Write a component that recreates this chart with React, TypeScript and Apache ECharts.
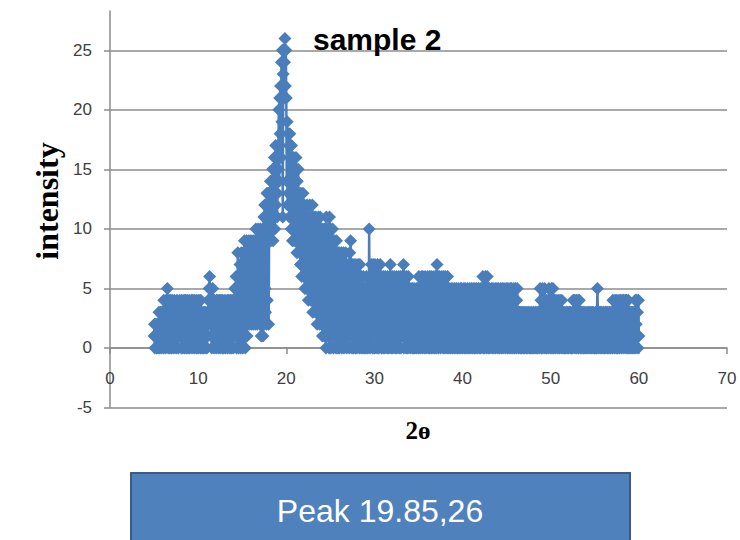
import React, { useEffect, useRef } from "react";
import * as echarts from "echarts";

// 2θ sampling grid of the scan
const X_START = 5.0;
const X_STEP = 0.05;

// intensity, one row per degree (x.00 .. x.95)
const intensity: number[] = [
  1, 2, 0, 1, 2, 1, 0, 2, 1, 0, 2, 3, 0, 1, 3, 2, 0, 3, 1, 2, // 5
  3, 0, 4, 2, 1, 3, 0, 4, 1, 2, 5, 2, 0, 3, 4, 1, 0, 4, 2, 3, // 6
  0, 4, 1, 3, 2, 0, 4, 2, 1, 3, 0, 3, 4, 1, 2, 0, 3, 1, 4, 2, // 7
  1, 3, 0, 4, 2, 0, 3, 1, 4, 0, 2, 4, 1, 0, 3, 4, 2, 0, 1, 3, // 8
  4, 0, 2, 3, 1, 4, 0, 2, 4, 1, 3, 0, 4, 2, 1, 3, 0, 4, 1, 2, // 9
  0, 3, 4, 1, 2, 0, 4, 3, 1, 0, 2, 3, 0, 1, 3, 2, 0, 3, 1, 2, // 10
  0, 3, 1, 4, 2, 5, 6, 3, 5, 1, 4, 0, 2, 5, 1, 3, 0, 4, 2, 1, // 11
  3, 0, 4, 1, 2, 4, 0, 3, 1, 4, 0, 2, 4, 1, 3, 0, 4, 2, 0, 3, // 12
  1, 4, 0, 2, 3, 1, 4, 0, 2, 4, 1, 3, 0, 4, 2, 1, 0, 4, 3, 1, // 13
  0, 4, 2, 5, 1, 3, 6, 0, 5, 2, 8, 3, 0, 6, 1, 7, 4, 0, 8, 2, // 14
  6, 0, 8, 3, 1, 9, 4, 0, 7, 2, 9, 1, 5, 8, 3, 9, 2, 6, 9, 3, // 15
  8, 2, 9, 4, 7, 2, 9, 5, 3, 8, 2, 10, 4, 9, 2, 7, 10, 3, 9, 5, // 16
  2, 10, 4, 1, 9, 3, 10, 1, 6, 11, 2, 12, 5, 3, 12, 2, 13, 4, 12, 13, // 17
  2, 9, 13, 10, 14, 9, 12, 14, 10, 15, 9, 15, 11, 16, 10, 14, 17, 12, 16, 11, // 18
  13, 17, 15, 20, 14, 21, 18, 22, 16, 24, 19, 25, 11, 23, 25, 21, 24, 26, 22, 25, // 19
  21, 14, 19, 12, 18, 13, 17, 11, 18, 12, 16, 10, 17, 12, 9, 15, 11, 16, 9, 14, // 20
  15, 9, 16, 10, 8, 14, 11, 15, 9, 13, 8, 12, 7, 13, 10, 6, 12, 8, 13, 7, // 21
  6, 12, 5, 10, 7, 11, 5, 12, 8, 6, 4, 11, 7, 12, 5, 9, 4, 10, 6, 12, // 22
  3, 10, 6, 11, 4, 8, 3, 11, 5, 9, 2, 10, 5, 11, 3, 8, 2, 11, 6, 10, // 23
  2, 9, 1, 10, 5, 7, 1, 10, 3, 8, 0, 11, 4, 9, 1, 10, 6, 0, 11, 3, // 24
  10, 0, 6, 9, 2, 10, 4, 0, 8, 3, 9, 1, 7, 0, 9, 3, 5, 0, 8, 2, // 25
  0, 8, 3, 6, 1, 8, 0, 5, 7, 2, 8, 0, 4, 7, 1, 8, 3, 0, 6, 2, // 26
  7, 1, 5, 0, 8, 3, 9, 2, 6, 0, 7, 2, 0, 5, 7, 1, 4, 0, 7, 3, // 27
  0, 6, 2, 7, 1, 4, 0, 7, 3, 5, 0, 6, 2, 4, 0, 6, 1, 5, 0, 3, // 28
  5, 0, 6, 2, 4, 0, 5, 1, 10, 4, 0, 6, 2, 7, 1, 5, 0, 7, 3, 6, // 29
  0, 7, 3, 5, 1, 6, 0, 7, 2, 4, 0, 6, 3, 7, 1, 5, 0, 6, 2, 4, // 30
  0, 6, 2, 5, 0, 6, 3, 1, 5, 0, 6, 2, 4, 0, 5, 1, 7, 3, 0, 5, // 31
  2, 6, 0, 4, 1, 6, 3, 0, 5, 2, 6, 0, 3, 5, 1, 6, 0, 4, 2, 6, // 32
  0, 5, 2, 6, 1, 4, 7, 0, 3, 6, 1, 5, 0, 6, 2, 4, 0, 6, 1, 3, // 33
  5, 0, 3, 5, 1, 4, 0, 5, 2, 0, 5, 3, 0, 4, 1, 5, 0, 2, 5, 1, // 34
  0, 6, 2, 4, 0, 5, 1, 6, 3, 0, 6, 2, 5, 0, 4, 6, 1, 0, 5, 3, // 35
  1, 6, 0, 3, 5, 0, 6, 2, 4, 0, 6, 1, 5, 0, 3, 6, 2, 0, 4, 6, // 36
  0, 5, 7, 2, 6, 0, 4, 1, 6, 3, 0, 5, 2, 6, 1, 4, 0, 6, 2, 5, // 37
  0, 6, 3, 1, 5, 0, 6, 2, 4, 0, 5, 1, 3, 0, 5, 2, 4, 0, 5, 1, // 38
  3, 0, 5, 2, 4, 0, 5, 1, 3, 0, 5, 2, 0, 4, 1, 5, 0, 3, 5, 1, // 39
  0, 4, 2, 5, 1, 0, 5, 3, 0, 4, 2, 5, 0, 1, 4, 0, 5, 2, 3, 0, // 40
  5, 1, 3, 0, 5, 2, 4, 0, 5, 1, 0, 4, 5, 2, 0, 3, 5, 1, 4, 0, // 41
  5, 0, 3, 4, 1, 5, 6, 0, 2, 5, 0, 4, 6, 1, 3, 0, 6, 2, 5, 0, // 42
  3, 5, 0, 2, 4, 1, 5, 0, 3, 5, 1, 0, 4, 2, 5, 0, 3, 1, 5, 2, // 43
  0, 5, 2, 4, 0, 3, 5, 1, 0, 4, 5, 2, 0, 3, 5, 1, 4, 0, 2, 5, // 44
  1, 4, 0, 5, 2, 3, 0, 4, 5, 1, 0, 5, 2, 4, 0, 3, 5, 1, 0, 4, // 45
  5, 2, 0, 4, 5, 1, 3, 0, 2, 3, 1, 0, 3, 2, 0, 3, 1, 2, 0, 3, // 46
  2, 0, 3, 1, 2, 0, 3, 1, 0, 3, 2, 1, 0, 3, 2, 0, 1, 3, 0, 2, // 47
  0, 3, 1, 2, 0, 3, 2, 0, 1, 3, 0, 2, 3, 1, 0, 2, 5, 1, 4, 0, // 48
  3, 5, 0, 2, 4, 1, 5, 0, 3, 2, 0, 4, 1, 3, 0, 2, 5, 1, 3, 0, // 49
  4, 1, 5, 0, 3, 5, 2, 0, 4, 1, 3, 0, 4, 2, 1, 3, 0, 4, 1, 2, // 50
  0, 4, 2, 3, 0, 4, 1, 2, 0, 3, 1, 0, 3, 2, 0, 1, 3, 0, 2, 3, // 51
  0, 2, 3, 1, 0, 3, 2, 0, 1, 3, 0, 4, 2, 1, 4, 0, 3, 2, 4, 0, // 52
  3, 1, 4, 0, 2, 4, 1, 3, 0, 2, 3, 0, 1, 3, 2, 0, 3, 1, 0, 2, // 53
  3, 0, 2, 1, 3, 0, 2, 3, 1, 0, 2, 3, 0, 1, 3, 2, 0, 3, 1, 0, // 54
  2, 0, 3, 1, 0, 3, 5, 3, 0, 2, 3, 1, 0, 3, 2, 0, 3, 1, 2, 0, // 55
  3, 1, 0, 2, 3, 0, 1, 3, 2, 0, 3, 1, 0, 2, 3, 1, 0, 3, 2, 1, // 56
  0, 4, 1, 3, 2, 0, 4, 1, 3, 0, 4, 2, 0, 3, 1, 4, 0, 2, 4, 1, // 57
  3, 0, 4, 2, 1, 4, 0, 3, 1, 4, 2, 0, 4, 1, 3, 0, 4, 2, 0, 3, // 58
  1, 3, 0, 2, 3, 0, 1, 3, 2, 0, 3, 1, 4, 0, 2, 4, 1, 3, 0, 4, // 59
  1, // 60
];

const xTicks = [0, 10, 20, 30, 40, 50, 60, 70];
const yTicks = [-5, 0, 5, 10, 15, 20, 25];
const Y_TOP = 28.3;

const TITLE = "sample 2";
const Y_NAME = "intensity";
const X_NAME = "2ɵ";
const PEAK_TEXT = "Peak 19.85,26";

const BLUE = "#4A7EBB";
const GRID_GRAY = "#8C8C8C";
const LABEL = "#404040";

export default function App() {
  const ref = useRef<HTMLDivElement>(null);

  useEffect(() => {
    if (!ref.current) return;
    const chart = echarts.init(ref.current, undefined, { renderer: "svg" });
    const data = intensity.map((v, i) => [
      Number((X_START + i * X_STEP).toFixed(2)),
      v,
    ]);
    const labelStyle = {
      color: LABEL,
      fontSize: 17,
      fontFamily: "Liberation Sans, Arial, sans-serif",
    };
    chart.setOption({
      animation: false,
      grid: { left: 110, right: 13, top: 11, bottom: 132.5, containLabel: false },
      xAxis: {
        type: "value",
        min: xTicks[0],
        max: xTicks[xTicks.length - 1],
        interval: 10,
        axisLine: { show: true, onZero: true, lineStyle: { color: GRID_GRAY, width: 1.5 } },
        axisTick: { show: true, length: 6, lineStyle: { color: GRID_GRAY, width: 1.5 } },
        axisLabel: { ...labelStyle, margin: -38 },
        splitLine: { show: false },
      },
      yAxis: {
        type: "value",
        min: yTicks[0],
        max: Y_TOP,
        interval: 5,
        axisLine: { show: true, onZero: false, lineStyle: { color: GRID_GRAY, width: 1.5 } },
        axisTick: {
          show: true,
          length: 6,
          customValues: yTicks,
          lineStyle: { color: GRID_GRAY, width: 1.5 },
        },
        axisLabel: { ...labelStyle, margin: 18, customValues: yTicks },
        splitLine: { show: true, lineStyle: { color: GRID_GRAY, width: 1.5 } },
      },
      series: [
        {
          type: "line",
          data,
          symbol: "diamond",
          symbolSize: 13,
          showSymbol: true,
          lineStyle: { color: BLUE, width: 2.5 },
          itemStyle: { color: BLUE },
          emphasis: { disabled: true },
          silent: true,
          z: 3,
        },
      ],
      graphic: [
        {
          type: "text",
          left: 313,
          top: 24,
          z: 10,
          style: {
            text: TITLE,
            fill: "#000",
            font: "bold 30px 'Liberation Sans', Arial, sans-serif",
          },
        },
        {
          type: "text",
          x: 47,
          y: 201,
          rotation: Math.PI / 2,
          z: 10,
          style: {
            text: Y_NAME,
            fill: "#000",
            font: "bold 32px 'Liberation Serif', 'Times New Roman', serif",
            align: "center",
            verticalAlign: "middle",
          },
        },
        {
          type: "text",
          x: 418,
          y: 430,
          z: 10,
          style: {
            text: X_NAME,
            fill: "#000",
            font: "bold 25px 'Liberation Serif', 'DejaVu Serif', serif",
            align: "center",
            verticalAlign: "middle",
          },
        },
        {
          type: "rect",
          z: 10,
          shape: { x: 131, y: 473, width: 499, height: 80 },
          style: { fill: "#4F81BD", stroke: "#385D8A", lineWidth: 2 },
        },
        {
          type: "text",
          x: 380,
          y: 511,
          z: 11,
          style: {
            text: PEAK_TEXT,
            fill: "#fff",
            font: "32px 'Liberation Sans', Arial, sans-serif",
            align: "center",
            verticalAlign: "middle",
          },
        },
      ],
    });
    return () => chart.dispose();
  }, []);

  return (
    <div
      ref={ref}
      style={{ position: "absolute", left: 0, top: 0, width: 740, height: 540 }}
    />
  );
}
